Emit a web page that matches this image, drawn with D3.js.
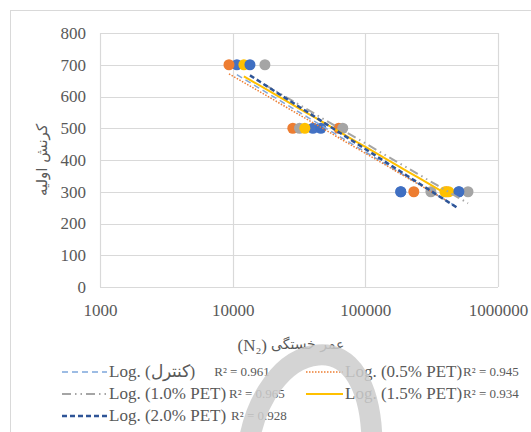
<!DOCTYPE html>
<meta charset="utf-8">
<head>
  <title>Fatigue life</title>
</head>
<style>
body { margin: 0; background: #fff; }
</style>
<body>
<script src="https://cdn.jsdelivr.net/npm/d3@7"></script>
<script>

// data
var stressLevels = [0, 100, 200, 300, 400, 500, 600, 700, 800];
var lifeTicks = [1000, 10000, 100000, 1000000];

var control  = [[10760, 700], [40300, 500], [185000, 300], [507000, 300]];
var pet05    = [[9380, 700], [28400, 500], [63000, 500], [232000, 300], [410000, 300]];
var pet10    = [[17500, 700], [31900, 500], [67600, 500], [312000, 300], [594000, 300]];
var pet15    = [[12150, 700], [35000, 500], [398000, 300], [425000, 300]];
var pet20    = [[13500, 700], [46200, 500], [185000, 300], [507000, 300]];

var seriesNames = ["Log. (کنترل)", "Log. (0.5% PET)", "Log. (1.0% PET)", "Log. (1.5% PET)", "Log. (2.0% PET)"];
var r2Labels = ["R² = 0.961", "R² = 0.945", "R² = 0.965", "R² = 0.934", "R² = 0.928"];

var series = [
  {name: seriesNames[0], r2: r2Labels[0], pts: control, dot: "#4472C4", line: "#7ea6dc", dash: "6,4", sw: 1.5},
  {name: seriesNames[1], r2: r2Labels[1], pts: pet05, dot: "#ED7D31", line: "#ED7D31", dash: "1.5,1.5", sw: 1.5},
  {name: seriesNames[2], r2: r2Labels[2], pts: pet10, dot: "#A5A5A5", line: "#A5A5A5", dash: "9,4,1.5,4,1.5,4", sw: 2},
  {name: seriesNames[3], r2: r2Labels[3], pts: pet15, dot: "#FFC000", line: "#FFC000", dash: null, sw: 2},
  {name: seriesNames[4], r2: r2Labels[4], pts: pet20, dot: "#3F6FC2", line: "#2F5597", dash: "5,3", sw: 2.5}
];

var serif = "'Liberation Serif', 'Times New Roman', serif";
var arabic = "'DejaVu Sans', sans-serif";
var textColor = "#595959";

var w = 531, h = 432;
var svg = d3.select("body").append("svg").attr("width", w).attr("height", h);

// chart frame
svg.append("rect").attr("x", 10.5).attr("y", 10.5).attr("width", 540).attr("height", 440)
  .attr("fill", "#fff").attr("stroke", "#d9d9d9");

var x = d3.scaleLog().domain([1000, 1000000]).range([100, 498]);
var y = d3.scaleLinear().domain([0, 800]).range([287, 33]);

// grid
svg.append("g").selectAll("line").data(stressLevels).enter().append("line")
  .attr("x1", 100).attr("x2", 498)
  .attr("y1", function(d) { return Math.round(y(d)) + 0.5; })
  .attr("y2", function(d) { return Math.round(y(d)) + 0.5; })
  .attr("stroke", "#d9d9d9").attr("stroke-width", 1.2);
svg.append("g").selectAll("line").data(lifeTicks).enter().append("line")
  .attr("y1", 33).attr("y2", 287)
  .attr("x1", function(d) { return Math.round(x(d)) + 0.5; })
  .attr("x2", function(d) { return Math.round(x(d)) + 0.5; })
  .attr("stroke", "#d9d9d9").attr("stroke-width", 1.2);

// axes (labels only)
var yAxis = svg.append("g").attr("transform", "translate(92,0)")
  .call(d3.axisLeft(y).tickValues(stressLevels).tickSize(0).tickPadding(6));
var xAxis = svg.append("g").attr("transform", "translate(0,300)")
  .call(d3.axisBottom(x).tickValues(lifeTicks).tickFormat(d3.format("d")).tickSize(0).tickPadding(4));
[yAxis, xAxis].forEach(function(a) {
  a.select(".domain").remove();
  a.selectAll("text").attr("font-size", 17).attr("fill", textColor)
    .style("font-family", serif);
});

// log trendlines
function logFit(pts) {
  var n = pts.length, sx = 0, sy = 0, sxx = 0, sxy = 0;
  pts.forEach(function(p) { var l = Math.log(p[0]); sx += l; sy += p[1]; sxx += l * l; sxy += l * p[1]; });
  var a = (n * sxy - sx * sy) / (n * sxx - sx * sx);
  var b = (sy - a * sx) / n;
  return function(v) { return a * Math.log(v) + b; };
}

var line = d3.line().x(function(d) { return x(d[0]); }).y(function(d) { return y(d[1]); });

// dots
series.forEach(function(s) {
  svg.append("g").selectAll("circle").data(s.pts).enter().append("circle")
    .attr("cx", function(d) { return x(d[0]); })
    .attr("cy", function(d) { return y(d[1]); })
    .attr("r", 5.5).attr("fill", s.dot);
});

series.forEach(function(s) {
  var f = logFit(s.pts);
  var ext = d3.extent(s.pts, function(d) { return d[0]; });
  var pts = d3.range(0, 21).map(function(i) {
    var v = Math.exp(Math.log(ext[0]) + (Math.log(ext[1]) - Math.log(ext[0])) * i / 20);
    return [v, f(v)];
  });
  svg.append("path").datum(pts).attr("d", line).attr("fill", "none")
    .attr("stroke", s.line).attr("stroke-width", s.sw)
    .attr("stroke-dasharray", s.dash);
});

// axis titles
svg.append("text").attr("transform", "translate(47,160) rotate(-90)")
  .attr("text-anchor", "middle").attr("font-size", 15).attr("fill", textColor)
  .style("font-family", arabic)
  .text("کرنش اولیه");
svg.append("text").attr("x", 267).attr("y", 351).attr("text-anchor", "end")
  .attr("font-size", 17).attr("fill", textColor).style("font-family", serif)
  .text("(N₂)");
svg.append("text").attr("x", 271).attr("y", 349).attr("text-anchor", "start")
  .attr("font-size", 14).attr("fill", textColor).style("font-family", arabic)
  .text("عمر خستگی");

// legend
var legendPos = [[62, 377], [306, 377], [62, 399], [306, 399], [62, 421]];
var r2Gap = [19, 1, 3, 1, 5];
series.forEach(function(s, i) {
  var p = legendPos[i];
  var len = i % 2 === 0 ? 45 : 37;
  svg.append("line").attr("x1", p[0]).attr("x2", p[0] + len)
    .attr("y1", p[1] - 5).attr("y2", p[1] - 5)
    .attr("stroke", s.line).attr("stroke-width", s.sw)
    .attr("stroke-dasharray", s.dash);
  var t = svg.append("text").attr("x", p[0] + len + 2).attr("y", p[1])
    .attr("font-size", 17).attr("fill", textColor).style("font-family", serif)
    .text(s.name);
  var end = p[0] + len + 2 + t.node().getComputedTextLength();
  svg.append("text").attr("x", end + r2Gap[i]).attr("y", p[1] - 1)
    .attr("font-size", 13).attr("fill", textColor).style("font-family", serif)
    .text(s.r2);
});

// watermark arc over the legend
svg.append("path").attr("d", "M249,442 C256,400 282,358 318,355 C350,352 371,385 372,442")
  .attr("fill", "none").attr("stroke", "#cdcdcd").attr("stroke-width", 21)
  .attr("opacity", 0.85);

</script>
</body>
</html>
